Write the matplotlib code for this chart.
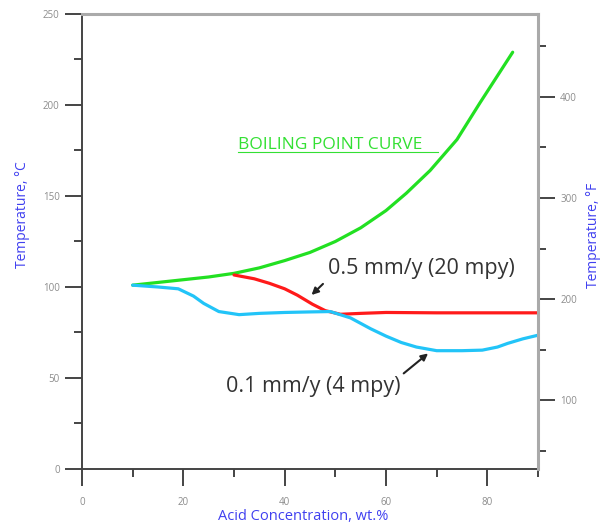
import matplotlib.pyplot as plt
from matplotlib.ticker import MultipleLocator

# acid concentration (wt.%) and temperature (deg C)
boil_x = [10, 15, 20, 25, 30, 35, 40, 45, 50, 55, 60, 64, 68.7, 74, 78.5, 85]
boil_y = [101, 102.5, 104, 105.5, 107.5, 110.5, 114.5, 119, 125, 132.5, 142, 151.5, 164, 181, 201, 229]

r05_x = [30, 34, 37, 40, 42.5, 45.5, 48, 51, 55, 60, 70, 80, 90]
r05_y = [106.6, 104.5, 102, 99, 95.5, 90.5, 87, 85, 85.5, 86, 85.8, 85.8, 85.8]

r01_x = [10, 15, 19, 22, 24, 27, 31, 35, 40, 45, 49, 53, 57, 60, 63, 66, 70, 75, 79, 82, 84, 87, 90]
r01_y = [101, 100, 99, 95, 91, 86.5, 84.8, 85.5, 86, 86.3, 86.5, 83, 77, 73, 69.5, 67, 65, 65, 65.3, 67, 69, 71.5, 73.5]

plt.rcParams['font.family'] = ['Open Sans', 'DejaVu Sans']
tick_gray = '#8c8c8c'
blue = '#4040f0'

fig = plt.figure(figsize=(6, 5.24), dpi=100)
ax = fig.add_axes([0.1367, 0.105, 0.76, 0.8683])

ax.plot(boil_x, boil_y, color='#22e022', lw=2.3, solid_capstyle='round')
ax.plot(r05_x, r05_y, color='#ff1a1a', lw=2.3, solid_capstyle='round')
ax.plot(r01_x, r01_y, color='#22c4f8', lw=2.3, solid_capstyle='round')

ax.set_xlim(0, 90)
ax.set_ylim(0, 250)

ax.xaxis.set_major_locator(MultipleLocator(20))
ax.xaxis.set_minor_locator(MultipleLocator(10))
ax.yaxis.set_major_locator(MultipleLocator(50))
ax.yaxis.set_minor_locator(MultipleLocator(25))
ax.tick_params(which='major', direction='out', length=12, width=1.4, color='#444444',
               labelsize=7, labelcolor=tick_gray, pad=4)
ax.tick_params(which='minor', direction='out', length=6, width=1.4, color='#444444')
ax.tick_params(axis='x', which='major', pad=8)

for side in ['left', 'bottom']:
    ax.spines[side].set_color('#444444')
    ax.spines[side].set_linewidth(1.4)
ax.spines['top'].set_color('#aaaaaa')
ax.spines['top'].set_linewidth(2.2)
ax.spines['right'].set_visible(False)

ax.set_xlabel('Acid Concentration, wt.%', color=blue, fontsize=10.5)
ax.xaxis.set_label_coords(0.485, -0.088)
ax.set_ylabel('Temperature, °C', color=blue, fontsize=10)
ax.yaxis.set_label_coords(-0.115, 0.558)

# Fahrenheit axis on the right
ax2 = ax.twinx()
ax2.set_ylim(0 * 9 / 5 + 32, 250 * 9 / 5 + 32)
ax2.yaxis.set_major_locator(MultipleLocator(100))
ax2.yaxis.set_minor_locator(MultipleLocator(50))
ax2.tick_params(which='major', direction='out', length=12, width=1.4, color='#444444',
                labelsize=7, labelcolor=tick_gray, pad=4)
ax2.tick_params(which='minor', direction='out', length=6, width=1.4, color='#444444')
for side in ['left', 'bottom', 'top']:
    ax2.spines[side].set_visible(False)
ax2.spines['right'].set_color('#aaaaaa')
ax2.spines['right'].set_linewidth(2.2)
ax2.set_ylabel('Temperature, °F', color=blue, fontsize=10)
ax2.yaxis.set_label_coords(1.105, 0.514)

ax.text(30.8, 175.7, 'BOILING POINT CURVE', color='#33e033', fontsize=12.5,
        ha='left', va='baseline')
ax.plot([30.8, 70.2], [174.3, 174.3], color='#33e033', lw=0.8)

ax.annotate('0.5 mm/y (20 mpy)', xy=(45.3, 95.6), xytext=(48.5, 110),
            fontsize=15.5, color='#333333', ha='left', va='center',
            arrowprops=dict(arrowstyle='-|>', color='#222222', lw=1.5,
                            mutation_scale=10, shrinkA=2, shrinkB=0,
                            relpos=(0.0, 0.0)))
ax.annotate('0.1 mm/y (4 mpy)', xy=(68.3, 63.5), xytext=(28.5, 45.5),
            fontsize=15.5, color='#333333', ha='left', va='center',
            arrowprops=dict(arrowstyle='-|>', color='#222222', lw=1.5,
                            mutation_scale=10, shrinkA=0, shrinkB=0,
                            relpos=(1.0, 1.0)))

fig.savefig('out.png', dpi=100)
